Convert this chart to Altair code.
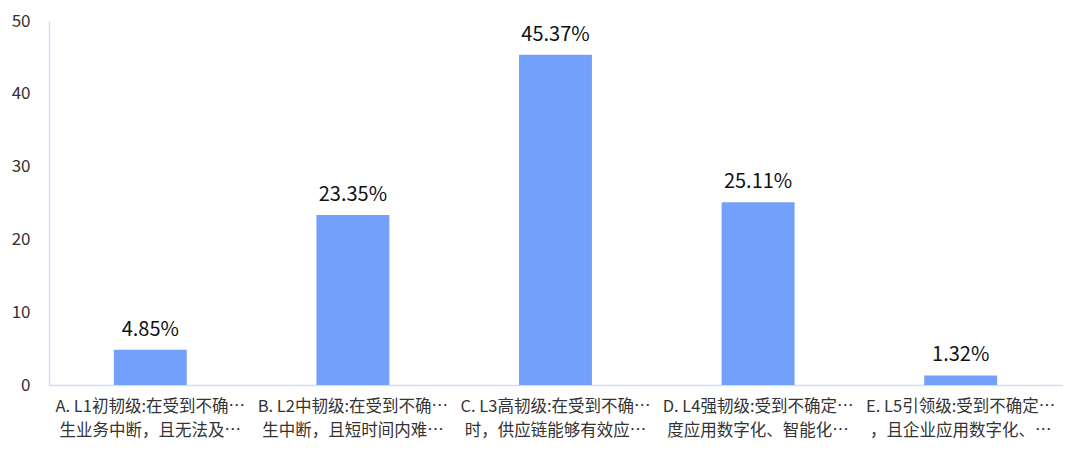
import altair as alt
import pandas as pd

line1 = ["A. L1初韧级:在受到不确…", "B. L2中韧级:在受到不确…", "C. L3高韧级:在受到不确…",
         "D. L4强韧级:受到不确定…", "E. L5引领级:受到不确定…"]
line2 = ["生业务中断，且无法及…", "生中断，且短时间内难…", "时，供应链能够有效应…",
         "度应用数字化、智能化…", "，且企业应用数字化、…"]
values = [4.85, 23.35, 45.37, 25.11, 1.32]
labels = ["4.85%", "23.35%", "45.37%", "25.11%", "1.32%"]

cats = [a + "|" + b for a, b in zip(line1, line2)]
df = pd.DataFrame({"cat": cats, "value": values, "label": labels})

FONT = "Noto Sans CJK SC"
x = alt.X("cat:N", sort=cats, title=None,
          scale=alt.Scale(paddingInner=0.64, paddingOuter=0.32),
          axis=alt.Axis(labelAngle=0, labelExpr="split(datum.label, '|')",
                        labelFontSize=16.5, labelColor="#333333", labelFont=FONT,
                        labelPadding=13, labelLineHeight=24, labelLimit=400,
                        labelOverlap=False,
                        ticks=False, domainColor="#d4def2", domainWidth=1.5))
y = alt.Y("value:Q", title=None,
          scale=alt.Scale(domain=[0, 50]),
          axis=alt.Axis(values=[0, 10, 20, 30, 40, 50], grid=False, ticks=False,
                        labelFontSize=17, labelColor="#333333", labelFont=FONT,
                        labelPadding=19, domainColor="#d4def2", domainWidth=1.5))

bars = alt.Chart(df).mark_bar(color="#73a0fa").encode(x=x, y=y)
text = alt.Chart(df).mark_text(dy=-10, baseline="bottom", fontSize=20, font=FONT,
                               color="#111111").encode(x=x, y=y, text="label:N")

chart = (bars + text).properties(
    width=1013, height=364,
    background="white",
    autosize=alt.AutoSizeParams(type="none"),
    padding={"left": 41, "top": 13, "right": 10, "bottom": 62},
).configure_view(stroke=None)

chart.save("out.html", embed_options={"renderer": "svg", "actions": False})
